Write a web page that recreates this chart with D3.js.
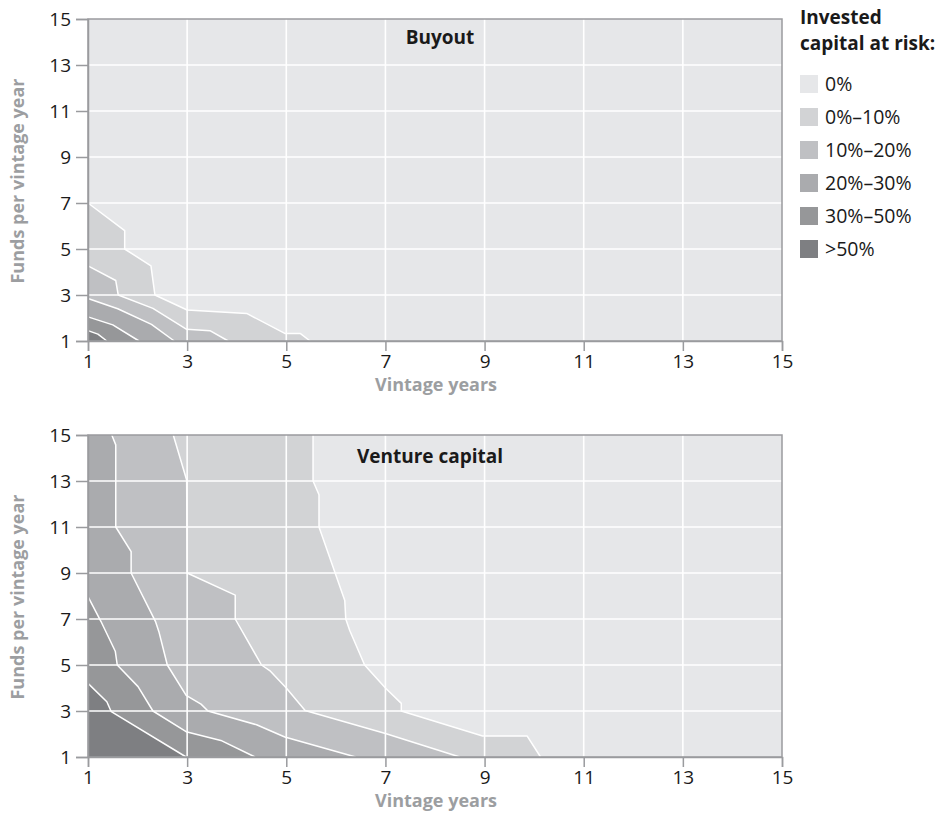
<!DOCTYPE html>
<html>
<head>
<meta charset="utf-8">
<script src="https://cdn.jsdelivr.net/npm/d3@7"></script>
<style>
  html, body { margin: 0; padding: 0; background: #fff; }
  svg text { font-family: "Open Sans", "Noto Sans", "DejaVu Sans", sans-serif; }
</style>
</head>
<body>
<svg id="chart" width="944" height="828"></svg>
<script>
// ---------- data ----------
const xTicks = [1, 3, 5, 7, 9, 11, 13, 15];
const yTicks = [1, 3, 5, 7, 9, 11, 13, 15];
const gridValues = [3, 5, 7, 9, 11, 13];

const levelLabels = ["0%", "0%–10%", "10%–20%", "20%–30%", "30%–50%", ">50%"];
const levelColors = ["#e6e7e9", "#d2d3d5", "#bfc0c3", "#aaabae", "#969799", "#7e7f82"];

// Buyout contour boundaries [vintage years, funds per vintage year]
const buyout010 = [[1,7],[1.74,5.8],[1.74,5.0],[2.27,4.27],[2.35,3.0],[3.0,2.35],[4.2,2.2],[4.97,1.33],[5.28,1.33],[5.48,1.0]];
const buyout1020 = [[1,4.27],[1.56,3.63],[1.61,3.0],[2.31,2.42],[2.99,1.51],[3.46,1.45],[3.83,1.0]];
const buyout2030 = [[1,2.85],[1.6,2.4],[2.28,1.72],[2.74,1.0]];
const buyout3050 = [[1,2.05],[1.5,1.7],[2.03,1.0]];
const buyout50 = [[1,1.45],[1.2,1.3],[1.38,1.0]];

// Venture capital contour boundaries
const vc010 = [[5.54,15],[5.54,13],[5.66,12.4],[5.66,11],[6.18,7.8],[6.2,7.0],[6.28,6.5],[6.58,5.0],[7.0,4.0],[7.32,3.33],[7.32,3.0],[8.96,1.91],[9.86,1.91],[10.13,1.0]];
const vc1020 = [[2.72,15],[2.99,13.04],[3.0,9.0],[3.97,8.04],[3.97,7.0],[4.5,5.0],[4.68,4.73],[5.0,4.0],[5.38,3.02],[7.0,2.02],[8.5,1.0]];
const vc2030 = [[1.48,15],[1.56,14.57],[1.56,11.0],[1.87,9.93],[1.87,9.0],[2.36,6.9],[2.43,6.45],[2.6,5.0],[2.98,3.68],[3.28,3.3],[3.42,3.0],[4.4,2.4],[4.97,1.87],[6.4,1.0]];
const vc3050 = [[1,7.97],[1.26,6.9],[1.55,5.6],[1.59,5.0],[2.01,4.06],[2.31,3.0],[2.98,2.1],[3.68,1.72],[4.37,1.0]];
const vc50 = [[1,4.2],[1.38,3.4],[1.47,2.97],[2.98,1.0]];

const panels = [
  { title: "Buyout", top: 19, bottom: 341, titleX: 440, titleY: 44,
    bounds: [buyout010, buyout1020, buyout2030, buyout3050, buyout50] },
  { title: "Venture capital", top: 435, bottom: 757, titleX: 430, titleY: 463,
    bounds: [vc010, vc1020, vc2030, vc3050, vc50] }
];

// ---------- drawing ----------
const svg = d3.select("#chart");
const x = d3.scaleLinear().domain([1, 15]).range([88, 782]);
const axisGray = "#9a9b9e";
const labelGray = "#9c9ea1";

panels.forEach(p => {
  const y = d3.scaleLinear().domain([1, 15]).range([p.bottom, p.top]);
  const g = svg.append("g");
  const line = d3.line().x(d => x(d[0])).y(d => y(d[1]));

  g.append("rect")
    .attr("x", x(1)).attr("y", y(15))
    .attr("width", x(15) - x(1)).attr("height", y(1) - y(15))
    .attr("fill", levelColors[0]);

  p.bounds.forEach((b, i) => {
    const poly = [[1, 1], [1, b[0][1]]].concat(b);
    g.append("path")
      .attr("d", line(poly) + "Z")
      .attr("fill", levelColors[i + 1]);
  });
  p.bounds.forEach(b => {
    g.append("path")
      .attr("d", line(b))
      .attr("fill", "none")
      .attr("stroke", "#ffffff")
      .attr("stroke-width", 1.5)
      .attr("stroke-linejoin", "round");
  });

  // gridlines
  g.selectAll(".vg").data(gridValues).join("line")
    .attr("x1", d => x(d)).attr("x2", d => x(d))
    .attr("y1", y(15)).attr("y2", y(1))
    .attr("stroke", "#ffffff").attr("stroke-width", 1.6);
  g.selectAll(".hg").data(gridValues).join("line")
    .attr("y1", d => y(d)).attr("y2", d => y(d))
    .attr("x1", x(1)).attr("x2", x(15))
    .attr("stroke", "#ffffff").attr("stroke-width", 1.6);

  // frame
  g.append("rect")
    .attr("x", x(1)).attr("y", y(15))
    .attr("width", x(15) - x(1)).attr("height", y(1) - y(15))
    .attr("fill", "none").attr("stroke", axisGray).attr("stroke-width", 1.5);

  // axes
  const xa = g.append("g").attr("transform", `translate(0,${y(1)})`)
    .call(d3.axisBottom(x).tickValues(xTicks).tickSize(10).tickPadding(4).tickFormat(d3.format("d")));
  const ya = g.append("g").attr("transform", `translate(${x(1)},0)`)
    .call(d3.axisLeft(y).tickValues(yTicks).tickSize(12).tickPadding(5).tickFormat(d3.format("d")));
  [xa, ya].forEach(a => {
    a.select(".domain").attr("stroke", axisGray).attr("stroke-width", 1.5);
    a.selectAll(".tick line").attr("stroke", axisGray).attr("stroke-width", 1.5);
    a.selectAll(".tick text").attr("fill", "#1a1a1a")
      .style("font-size", "19px")
      .style("font-family", "'Open Sans', 'Noto Sans', sans-serif");
  });

  // axis titles
  g.append("text")
    .attr("x", 436).attr("y", y(1) + 50)
    .attr("text-anchor", "middle")
    .attr("fill", labelGray).attr("font-weight", "bold").attr("font-size", 18)
    .text("Vintage years");
  g.append("text")
    .attr("transform", `translate(24,${(y(1) + y(15)) / 2 + 1}) rotate(-90)`)
    .attr("text-anchor", "middle")
    .attr("fill", labelGray).attr("font-weight", "bold").attr("font-size", 18)
    .text("Funds per vintage year");

  // panel title
  g.append("text")
    .attr("x", p.titleX).attr("y", p.titleY)
    .attr("text-anchor", "middle")
    .attr("fill", "#1a1a1a").attr("font-weight", "bold").attr("font-size", 19)
    .text(p.title);
});

// legend
const lg = svg.append("g");
lg.append("text").attr("x", 800).attr("y", 24)
  .attr("fill", "#1a1a1a").attr("font-weight", "bold").attr("font-size", 19)
  .text("Invested");
lg.append("text").attr("x", 800).attr("y", 50)
  .attr("fill", "#1a1a1a").attr("font-weight", "bold").attr("font-size", 19)
  .text("capital at risk:");
const items = lg.selectAll(".item").data(levelLabels).join("g")
  .attr("transform", (d, i) => `translate(800,${84 + i * 33})`);
items.append("rect").attr("x", 0).attr("y", -9).attr("width", 18).attr("height", 18)
  .attr("fill", (d, i) => levelColors[i]);
items.append("text").attr("x", 25).attr("y", 0).attr("dy", "0.35em")
  .attr("fill", "#1a1a1a").attr("font-size", 19.5)
  .text(d => d);
</script>
</body>
</html>
